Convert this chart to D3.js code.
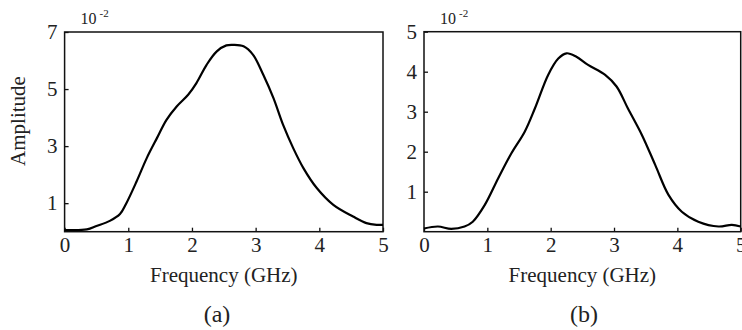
<!DOCTYPE html>
<html>
<head>
<meta charset="utf-8">
<script src="https://cdn.jsdelivr.net/npm/d3@7"></script>
<style>
  html, body { margin: 0; padding: 0; background: #fff; }
  svg { display: block; }
  svg text { font-family: 'Liberation Serif', 'DejaVu Serif', serif !important; fill: #222; }
</style>
</head>
<body>
<svg id="chart" width="742" height="330"></svg>
<script>
// Panel (a) data: frequency (GHz) vs amplitude (x10^-2)
const freqA = [0, 0.35, 0.50, 0.71, 0.87, 0.97, 1.13, 1.29, 1.45, 1.60, 1.76, 1.94, 2.07, 2.23, 2.39, 2.54, 2.65, 2.81, 2.96, 3.12, 3.28, 3.43, 3.59, 3.75, 3.96, 4.22, 4.53, 4.74, 4.90, 5.0];
const ampA  = [0.06, 0.08, 0.20, 0.38, 0.62, 1.00, 1.76, 2.58, 3.28, 3.92, 4.39, 4.80, 5.21, 5.85, 6.32, 6.53, 6.55, 6.50, 6.20, 5.50, 4.68, 3.75, 2.93, 2.23, 1.53, 0.94, 0.53, 0.30, 0.24, 0.24];
// Panel (b) data
const freqB = [0, 0.22, 0.43, 0.64, 0.77, 0.96, 1.17, 1.38, 1.59, 1.75, 1.96, 2.12, 2.25, 2.40, 2.59, 2.86, 3.04, 3.22, 3.44, 3.65, 3.86, 4.07, 4.33, 4.65, 4.86, 5.0];
const ampB  = [0.08, 0.13, 0.07, 0.13, 0.25, 0.67, 1.33, 1.96, 2.50, 3.08, 3.92, 4.33, 4.46, 4.38, 4.17, 3.92, 3.63, 3.08, 2.42, 1.67, 0.92, 0.50, 0.25, 0.13, 0.17, 0.13];

const xTicks = [0, 1, 2, 3, 4, 5];
const yTicksA = [1, 3, 5, 7];
const yTicksB = [1, 2, 3, 4, 5];
const yMaxA = 7, yMaxB = 5;
const xLabel = "Frequency (GHz)";
const yLabel = "Amplitude";
const scaleNote = ["10", "-2"];
const panelLabels = ["(a)", "(b)"];

const FONT = "'Liberation Serif', 'DejaVu Serif', serif";
const svg = d3.select("#chart");

function panel(cfg) {
  const {left, right, top, bottom, freq, amp, yMax, yTicks, label, showY, labelX} = cfg;
  const x = d3.scaleLinear().domain([0, 5]).range([left, right]);
  const y = d3.scaleLinear().domain([0, yMax]).range([bottom, top]);
  const g = svg.append("g");

  const xa = g.append("g").attr("transform", `translate(0,${bottom})`)
    .call(d3.axisBottom(x).tickValues(xTicks).tickFormat(d3.format("d"))
      .tickSize(-4).tickPadding(5.5));
  const ya = g.append("g").attr("transform", `translate(${left},0)`)
    .call(d3.axisLeft(y).tickValues(yTicks).tickFormat(d3.format("d"))
      .tickSize(-4).tickPadding(7));
  [xa, ya].forEach(a => {
    a.attr("font-family", FONT).attr("font-size", 21);
    a.select(".domain").remove();
    a.selectAll(".tick line").attr("stroke", "#111").attr("stroke-width", 1.3);
    a.selectAll(".tick text").attr("fill", "#222").style("font-family", FONT).style("font-size", "21px");
  });

  g.append("rect").attr("x", left).attr("y", top)
    .attr("width", right - left).attr("height", bottom - top)
    .attr("fill", "none").attr("stroke", "#111").attr("stroke-width", 1.5);

  const pts = freq.map((f, i) => [f, amp[i]]);
  g.append("path").datum(pts)
    .attr("fill", "none").attr("stroke", "#000").attr("stroke-width", 2.2)
    .attr("stroke-linejoin", "round")
    .attr("d", d3.line().x(d => x(d[0])).y(d => y(d[1])).curve(d3.curveCatmullRom.alpha(0.5)));

  const t = g.append("text").attr("x", left + 16).attr("y", 24)
    .style("font-family", FONT).style("font-size", "16px");
  t.append("tspan").text(scaleNote[0]);
  t.append("tspan").attr("dx", 3).attr("dy", -7).style("font-size", "11px").text(scaleNote[1]);

  g.append("text").attr("x", (left + right) / 2).attr("y", 282)
    .attr("text-anchor", "middle").style("font-family", FONT).style("font-size", "21px").text(xLabel);

  g.append("text").attr("x", labelX).attr("y", 322)
    .attr("text-anchor", "middle").style("font-family", FONT).style("font-size", "24px").text(label);

  if (showY) {
    g.append("text").attr("transform", `translate(25,121) rotate(-90)`)
      .attr("text-anchor", "middle").style("font-family", FONT).style("font-size", "21px").text(yLabel);
  }
}

panel({left: 64.6, right: 383, top: 32, bottom: 231.7, freq: freqA, amp: ampA,
  yMax: yMaxA, yTicks: yTicksA, label: panelLabels[0], showY: true, labelX: 217});
panel({left: 424, right: 740.7, top: 31.7, bottom: 231.7, freq: freqB, amp: ampB,
  yMax: yMaxB, yTicks: yTicksB, label: panelLabels[1], showY: false, labelX: 584});
</script>
</body>
</html>
